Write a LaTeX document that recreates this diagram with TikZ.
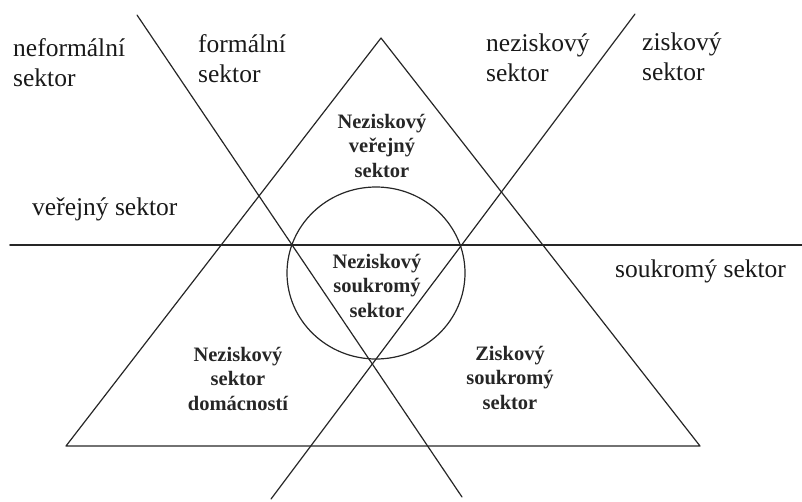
\documentclass[tikz,border=0pt]{standalone}
\usepackage{fontspec}
\setmainfont{Liberation Serif}
\begin{document}
\begin{tikzpicture}[x=1pt,y=-1pt,
  ln/.style={line width=1.2pt, draw=black!85, line cap=round},
  reg/.style={font=\fontsize{25.5}{30}\selectfont, inner sep=0pt, align=left, anchor=base west, text=black!90},
  bld/.style={font=\fontsize{20.5}{24.5}\selectfont\bfseries, inner sep=0pt, align=center, anchor=base, text=black!85}]
\useasboundingbox (0,0) rectangle (802,501);
% triangle
\coordinate (A) at (381,38);
\coordinate (BL) at (66,446);
\coordinate (BR) at (700,446);
\draw[ln, line join=round] (A) -- (BL) -- (BR) -- cycle;
% horizontal divider
\coordinate (H1) at (10,245);
\coordinate (H2) at (802,245);
\draw[ln, line width=1.8pt] (H1) -- (H2);
% crossing lines
\coordinate (L1a) at (137,15);
\coordinate (L1b) at (462,497);
\coordinate (L2a) at (635,14);
\coordinate (L2b) at (271,499);
\draw[ln] (L1a) -- (L1b);
\draw[ln] (L2a) -- (L2b);
% circle
\coordinate (C) at (376,273);
\draw[ln] (C) ellipse [x radius=89pt, y radius=86pt];
% outer labels (anchor = baseline of last line)
\node[reg] (nf) at (13,86) {neformální\\sektor};
\node[reg] (fo) at (198,82) {formální\\sektor};
\node[reg] (nz) at (486,81) {neziskový\\sektor};
\node[reg] (zi) at (642,80) {ziskový\\sektor};
\node[reg] (ve) at (32,215) {veřejný sektor};
\node[reg] (so) at (615,277) {soukromý sektor};
% inner labels
\node[bld] (nvs) at (382,177) {Neziskový\\veřejný\\sektor};
\node[bld] (nss) at (377,317) {Neziskový\\soukromý\\sektor};
\node[bld] (nsd) at (238,410) {Neziskový\\sektor\\domácností};
\node[bld] (zss) at (510,409) {Ziskový\\soukromý\\sektor};
\end{tikzpicture}
\end{document}
